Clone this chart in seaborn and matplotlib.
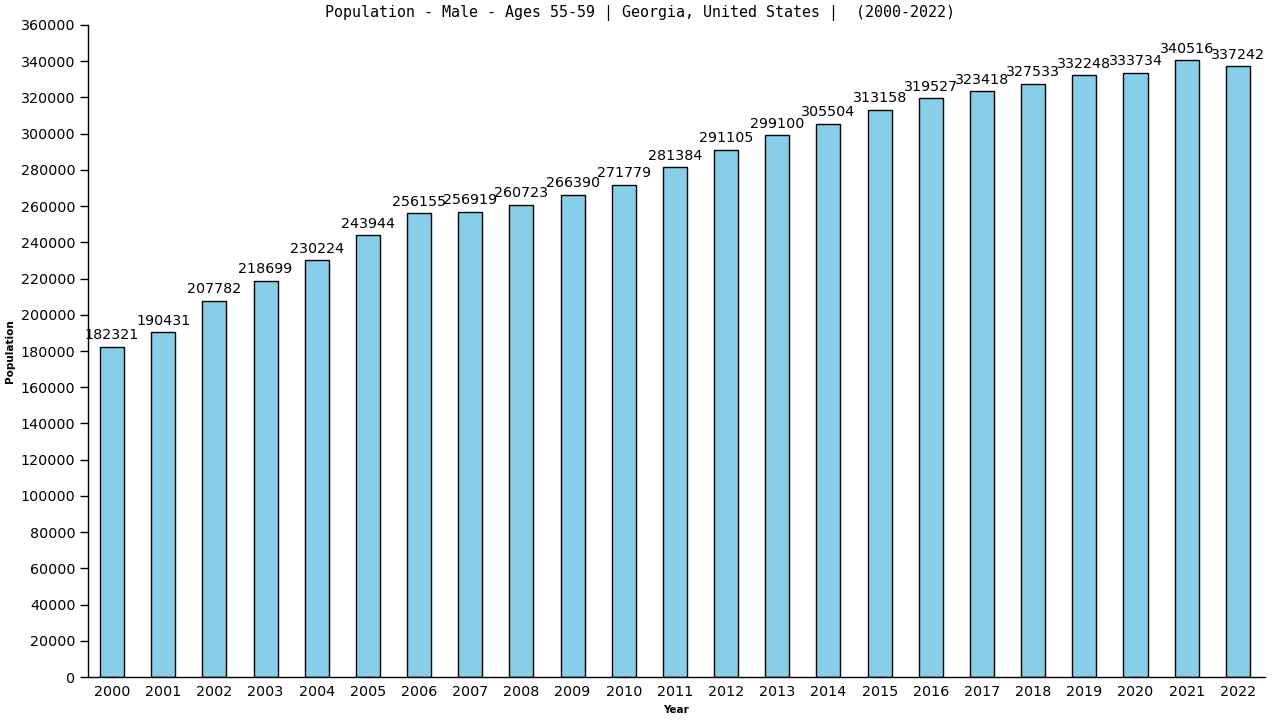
import matplotlib
matplotlib.use("Agg")
import matplotlib.pyplot as plt
import seaborn as sns
import pandas as pd

years = [str(y) for y in range(2000, 2023)]
population = [182321, 190431, 207782, 218699, 230224, 243944, 256155, 256919,
              260723, 266390, 271779, 281384, 291105, 299100, 305504, 313158,
              319527, 323418, 327533, 332248, 333734, 340516, 337242]
title = "Population - Male - Ages 55-59 | Georgia, United States |  (2000-2022)"

df = pd.DataFrame({"Year": years, "Population": population})

sns.set_theme(style="white")
plt.rcParams['font.family'] = ['DejaVu Sans']
plt.rcParams['text.color'] = 'black'
plt.rcParams['axes.labelcolor'] = 'black'
plt.rcParams['xtick.color'] = 'black'
plt.rcParams['ytick.color'] = 'black'

fig = plt.figure(figsize=(12.8, 7.2), dpi=100)
ax = fig.add_axes([0.06875, 0.0597, 0.9195, 0.9056])

sns.barplot(data=df, x="Year", y="Population", color="#87CEEB",
            edgecolor="black", linewidth=1, width=0.47, saturation=1, ax=ax)

for i, v in enumerate(population):
    ax.text(i, v + 2500, str(v), ha="center", va="bottom", fontsize=10.3, color="black")

ax.set_xlim(-0.47, 22.53)
ax.set_ylim(0, 360000)
ax.set_yticks(range(0, 360001, 20000))
ax.set_yticklabels([str(t) for t in range(0, 360001, 20000)], fontsize=10.3)
ax.tick_params(axis="y", direction="out", length=6, width=1, color="black",
               labelcolor="black", left=True, pad=3)
ax.tick_params(axis="x", length=0, labelsize=10.3, labelcolor="black", pad=6)
for s in ["top", "right"]:
    ax.spines[s].set_visible(False)
for s in ["left", "bottom"]:
    ax.spines[s].set_color("black")
    ax.spines[s].set_linewidth(1)

ax.set_xlabel("Year", fontsize=7.5, fontweight="bold", labelpad=4, color="black")
ax.set_ylabel("Population", fontsize=7.5, fontweight="bold", labelpad=4, color="black")
fig.text(0.5, 0.982, title, ha="center", va="center", fontsize=10.8,
         family="DejaVu Sans Mono", color="black")

fig.savefig("out.png", dpi=100, facecolor="white")
